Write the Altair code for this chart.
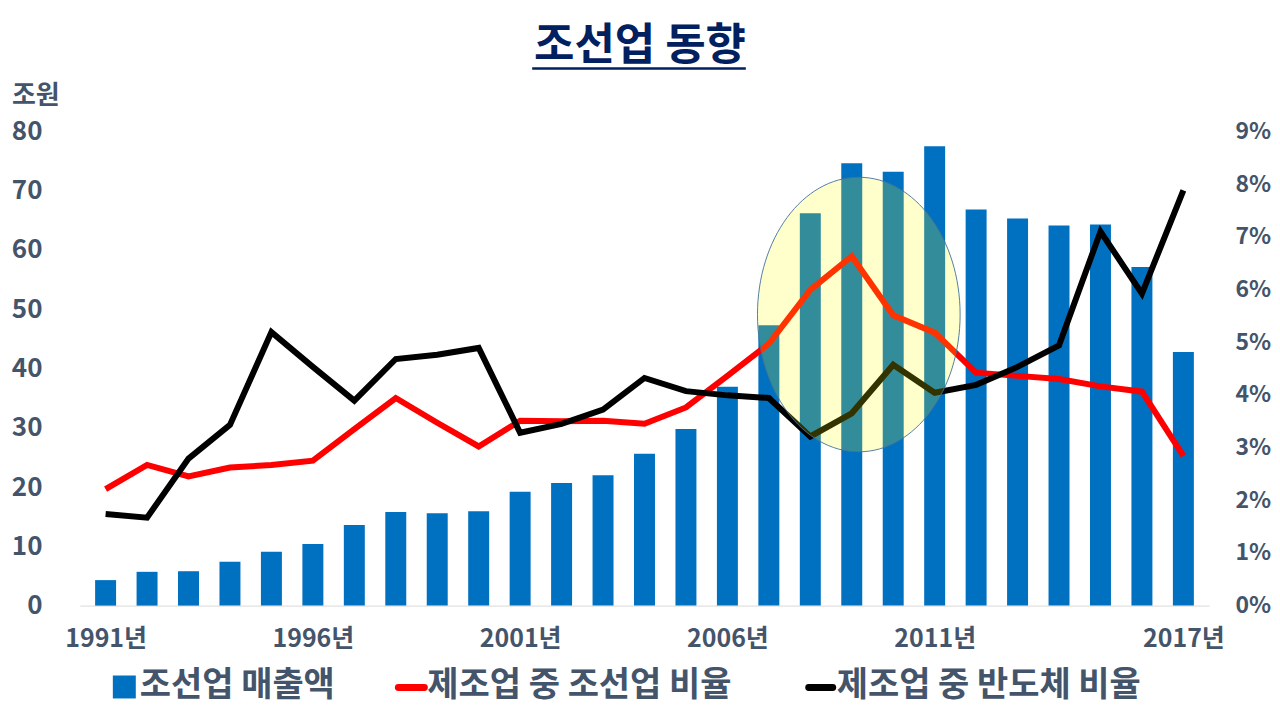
import altair as alt
import pandas as pd

# ---- data ----
years = list(range(1991, 2018))
sales = [4.3, 5.7, 5.8, 7.4, 9.1, 10.4, 13.6, 15.8, 15.6, 15.9, 19.2, 20.7, 22.0, 25.6,
         29.8, 36.9, 47.3, 66.2, 74.6, 73.2, 77.5, 66.8, 65.3, 64.1, 64.3, 57.1, 42.8]
ship_share = [2.21, 2.67, 2.45, 2.62, 2.67, 2.75, 3.35, 3.94, 3.47, 3.02, 3.51, 3.50, 3.51, 3.45,
              3.76, 4.36, 4.97, 5.99, 6.63, 5.51, 5.18, 4.42, 4.36, 4.30, 4.16, 4.06, 2.84]
semi_share = [1.74, 1.67, 2.79, 3.43, 5.19, 4.53, 3.89, 4.68, 4.76, 4.89, 3.28, 3.45, 3.72, 4.32,
              4.07, 3.99, 3.94, 3.21, 3.65, 4.57, 4.04, 4.19, 4.53, 4.94, 7.10, 5.92, 7.88]
x_tick_years = [1991, 1996, 2001, 2006, 2011, 2017]
left_ticks = [0, 10, 20, 30, 40, 50, 60, 70, 80]
right_ticks = [0, 1, 2, 3, 4, 5, 6, 7, 8, 9]
title_text = "조선업 동향"
unit_text = "조원"
legend_labels = ["조선업 매출액", "제조업 중 조선업 비율", "제조업 중 반도체 비율"]

df = pd.DataFrame({"year": years, "sales": sales, "ship": ship_share, "semi": semi_share})

FONT = "Noto Sans CJK KR"
GRAY = "#44546A"
BLUE = "#0070C0"
RED = "#FF0000"
BLACK = "#000000"

xscale = alt.Scale(domain=[1990.5, 2017.5], nice=False, zero=False)
x_enc = alt.X("year:Q", scale=xscale,
              axis=alt.Axis(values=x_tick_years, labelExpr="datum.value + '년'",
                            title=None, grid=False, ticks=False, domain=True,
                            domainColor="#D9D9D9", domainWidth=1, labelPadding=21,
                            labelFontSize=25, labelFlush=False))

left_scale = alt.Scale(domain=[0, 80], nice=False)
right_scale = alt.Scale(domain=[0, 9], nice=False)

base = alt.Chart(df)

bars = base.mark_bar(color=BLUE, size=21).encode(
    x=x_enc,
    y=alt.Y("sales:Q", scale=left_scale,
            axis=alt.Axis(values=left_ticks, title=None, grid=False, ticks=False,
                          domain=False, labelPadding=38, orient="left")),
)

red_line = base.mark_line(color=RED, strokeWidth=6, strokeJoin="miter").encode(
    x=alt.X("year:Q", scale=xscale),
    y=alt.Y("ship:Q", scale=right_scale,
            axis=alt.Axis(values=right_ticks, labelExpr="datum.value + '%'", title=None,
                          grid=False, ticks=False, domain=False, labelPadding=26,
                          labelFontSize=23, orient="right")),
)

black_line = base.mark_line(color=BLACK, strokeWidth=6, strokeJoin="miter").encode(
    x=alt.X("year:Q", scale=xscale),
    y=alt.Y("semi:Q", scale=right_scale, axis=None),
)

one = pd.DataFrame({"k": [0]})

ellipse = alt.Chart(one).mark_point(
    shape="M-0.738,0A0.738,1,0,1,0,0.738,0A0.738,1,0,1,0,-0.738,0Z",
    size=75625, filled=True, fill="#FFFF00", fillOpacity=0.2, opacity=1,
    stroke="#41719C", strokeWidth=1, strokeOpacity=0.9,
).encode(
    x=alt.XDatum(2009.17, scale=xscale),
    y=alt.YDatum(49.1, scale=left_scale, axis=None),
)

# ---- title with underline ----
title = alt.Chart(one).mark_text(
    text=title_text, font=FONT, fontSize=44, fontWeight="bold", color="#002060",
    align="center", baseline="middle",
).encode(x=alt.value(561), y=alt.value(-84))
underline = alt.Chart(one).mark_rule(color="#002060", strokeWidth=2.5).encode(
    x=alt.value(453), x2=alt.value(667), y=alt.value(-63))

unit = alt.Chart(one).mark_text(
    text=unit_text, font=FONT, fontSize=26, fontWeight="bold", color=GRAY,
    align="left", baseline="middle",
).encode(x=alt.value(-68), y=alt.value(-35))

# ---- manual legend ----
LY = 556
leg_sq = alt.Chart(one).mark_rect(color=BLUE).encode(
    x=alt.value(33), x2=alt.value(56), y=alt.value(LY - 11), y2=alt.value(LY + 12))
leg_red = alt.Chart(one).mark_rule(color=RED, strokeWidth=7, strokeCap="round").encode(
    x=alt.value(319), x2=alt.value(345), y=alt.value(LY + 1))
leg_black = alt.Chart(one).mark_rule(color=BLACK, strokeWidth=7, strokeCap="round").encode(
    x=alt.value(730), x2=alt.value(754), y=alt.value(LY + 1))

def leg_text(label, xpos):
    return alt.Chart(one).mark_text(
        text=label, font=FONT, fontSize=34, fontWeight="bold", color=GRAY,
        align="left", baseline="middle",
    ).encode(x=alt.value(xpos), y=alt.value(LY))

t1 = leg_text(legend_labels[0], 60)
t2 = leg_text(legend_labels[1], 348)
t3 = leg_text(legend_labels[2], 758)

chart = alt.layer(
    bars, red_line, black_line, ellipse,
    title, underline, unit, leg_sq, leg_red, leg_black, t1, t2, t3,
).resolve_scale(y="independent").properties(
    width=1131, height=475,
    padding={"left": 72, "top": 123, "right": 63, "bottom": 104},
    autosize=alt.AutoSizeParams(type="none"),
    background="white",
).configure_view(stroke=None).configure_axis(
    labelFont=FONT, labelFontSize=26, labelFontWeight="bold", labelColor=GRAY,
)

chart.save("out.html", embed_options={"renderer": "svg", "actions": False})
